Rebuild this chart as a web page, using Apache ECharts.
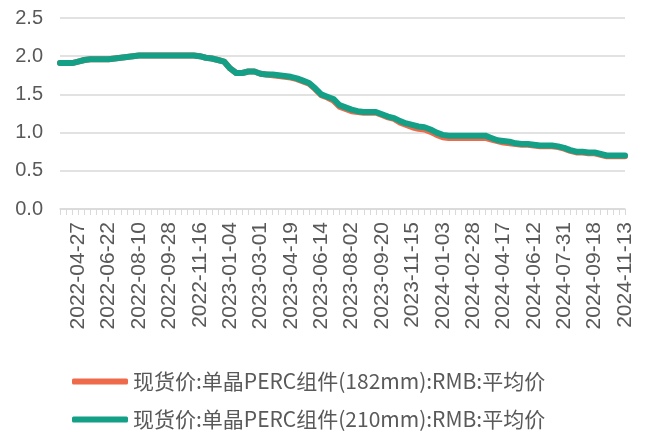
<!DOCTYPE html>
<html>
<head>
<meta charset="utf-8">
<script src="https://cdn.jsdelivr.net/npm/echarts@6/dist/echarts.min.js"></script>
<style>
  html, body { margin: 0; padding: 0; background: #fff; }
  #main { width: 646px; height: 432px; }
</style>
</head>
<body>
<div id="main"></div>
<script>
// 日期（周度）
var dates = [
  '2022-04-06', '2022-04-13', '2022-04-20',
  '2022-04-27', '2022-05-11', '2022-05-18', '2022-06-01', '2022-06-08',
  '2022-06-22', '2022-06-29', '2022-07-13', '2022-07-20', '2022-08-03',
  '2022-08-10', '2022-08-17', '2022-08-31', '2022-09-07', '2022-09-21',
  '2022-09-28', '2022-10-05', '2022-10-19', '2022-10-26', '2022-11-09',
  '2022-11-16', '2022-11-23', '2022-12-07', '2022-12-14', '2022-12-28',
  '2023-01-04', '2023-01-18', '2023-01-25', '2023-02-08', '2023-02-15',
  '2023-03-01', '2023-03-08', '2023-03-22', '2023-03-29', '2023-04-12',
  '2023-04-19', '2023-05-03', '2023-05-10', '2023-05-24', '2023-05-31',
  '2023-06-14', '2023-06-21', '2023-07-05', '2023-07-12', '2023-07-26',
  '2023-08-02', '2023-08-09', '2023-08-23', '2023-08-30', '2023-09-13',
  '2023-09-20', '2023-10-04', '2023-10-11', '2023-10-25', '2023-11-01',
  '2023-11-15', '2023-11-22', '2023-12-06', '2023-12-13', '2023-12-27',
  '2024-01-03', '2024-01-17', '2024-01-24', '2024-02-07', '2024-02-14',
  '2024-02-28', '2024-03-06', '2024-03-20', '2024-03-27', '2024-04-10',
  '2024-04-17', '2024-05-01', '2024-05-08', '2024-05-22', '2024-05-29',
  '2024-06-12', '2024-06-19', '2024-07-03', '2024-07-10', '2024-07-24',
  '2024-07-31', '2024-08-07', '2024-08-21', '2024-08-28', '2024-09-11',
  '2024-09-18', '2024-10-02', '2024-10-09', '2024-10-23', '2024-10-30',
  '2024-11-13'
];

// 现货价:单晶PERC组件(182mm)
var p182 = [
  1.91, 1.91, 1.91, 1.93, 1.95, 1.96, 1.96, 1.96, 1.96, 1.97,
  1.98, 1.99, 2.00, 2.01, 2.01, 2.01, 2.01, 2.01, 2.01, 2.01,
  2.01, 2.01, 2.01, 2.00, 1.98, 1.97, 1.95, 1.93, 1.84, 1.78,
  1.78, 1.80, 1.80, 1.77, 1.76, 1.75, 1.74, 1.73, 1.72, 1.70,
  1.67, 1.64, 1.57, 1.49, 1.46, 1.42, 1.34, 1.31, 1.28, 1.27,
  1.26, 1.26, 1.26, 1.23, 1.20, 1.18, 1.13, 1.10, 1.07, 1.05,
  1.04, 1.01, 0.97, 0.94, 0.93, 0.93, 0.93, 0.93, 0.93, 0.93,
  0.93, 0.91, 0.89, 0.87, 0.86, 0.85, 0.84, 0.84, 0.83, 0.82,
  0.82, 0.82, 0.81, 0.79, 0.76, 0.74, 0.74, 0.73, 0.73, 0.71,
  0.69, 0.69, 0.69, 0.69
];

// 现货价:单晶PERC组件(210mm)
var p210 = [
  1.91, 1.91, 1.91, 1.93, 1.95, 1.96, 1.96, 1.96, 1.96, 1.97,
  1.98, 1.99, 2.00, 2.01, 2.01, 2.01, 2.01, 2.01, 2.01, 2.01,
  2.01, 2.01, 2.01, 2.00, 1.98, 1.97, 1.95, 1.93, 1.84, 1.78,
  1.78, 1.80, 1.80, 1.77, 1.76, 1.76, 1.75, 1.74, 1.73, 1.71,
  1.68, 1.65, 1.58, 1.50, 1.47, 1.44, 1.36, 1.33, 1.30, 1.28,
  1.27, 1.27, 1.27, 1.24, 1.21, 1.19, 1.15, 1.12, 1.10, 1.08,
  1.07, 1.04, 1.00, 0.97, 0.96, 0.96, 0.96, 0.96, 0.96, 0.96,
  0.96, 0.93, 0.90, 0.89, 0.88, 0.86, 0.85, 0.85, 0.84, 0.83,
  0.83, 0.83, 0.82, 0.80, 0.77, 0.75, 0.75, 0.74, 0.74, 0.72,
  0.70, 0.70, 0.70, 0.70
];

var yTicks = [0, 0.5, 1.0, 1.5, 2.0, 2.5];
var names = ['现货价:单晶PERC组件(182mm):RMB:平均价', '现货价:单晶PERC组件(210mm):RMB:平均价'];

var myChart = echarts.init(document.getElementById('main'));
var txt = '#595959';
var font = '"Liberation Sans", "Noto Sans CJK SC", sans-serif';

function legendAt(top, name) {
  return {
    left: 72,
    top: top,
    padding: 0,
    itemWidth: 56,
    itemHeight: 6,
    itemGap: 0,
    icon: 'roundRect',
    textStyle: { color: txt, fontSize: 21, fontFamily: '"Noto Sans CJK SC", sans-serif' },
    data: [name]
  };
}

myChart.setOption({
  animation: false,
  textStyle: { fontFamily: font },
  grid: { left: 60, right: 21, top: 18, bottom: 223 },
  legend: [legendAt(371, names[0]), legendAt(409, names[1])],
  xAxis: {
    type: 'category',
    data: dates,
    boundaryGap: false,
    axisLine: { lineStyle: { color: '#d9d9d9', width: 1.5 } },
    axisTick: { interval: 0, length: 6, lineStyle: { color: '#d9d9d9', width: 1 } },
    axisLabel: {
      rotate: 90,
      margin: 13,
      color: txt,
      fontSize: 21,
      interval: function (i) { return (i - 3) % 5 === 0 && i >= 3; }
    }
  },
  yAxis: {
    type: 'value',
    min: yTicks[0],
    max: yTicks[yTicks.length - 1],
    interval: 0.5,
    axisLine: { show: false },
    axisTick: { show: false },
    axisLabel: {
      color: txt,
      fontSize: 20,
      margin: 17,
      formatter: function (v) { return v.toFixed(1); }
    },
    splitLine: { lineStyle: { color: '#d9d9d9', width: 1.5 } }
  },
  series: [{
    name: names[0],
    type: 'line',
    data: p182,
    showSymbol: false,
    color: '#ee6a4b',
    lineStyle: { width: 6, cap: 'round', join: 'round' }
  }, {
    name: names[1],
    type: 'line',
    data: p210,
    showSymbol: false,
    color: '#13a086',
    lineStyle: { width: 6, cap: 'round', join: 'round' }
  }]
});
</script>
</body>
</html>
